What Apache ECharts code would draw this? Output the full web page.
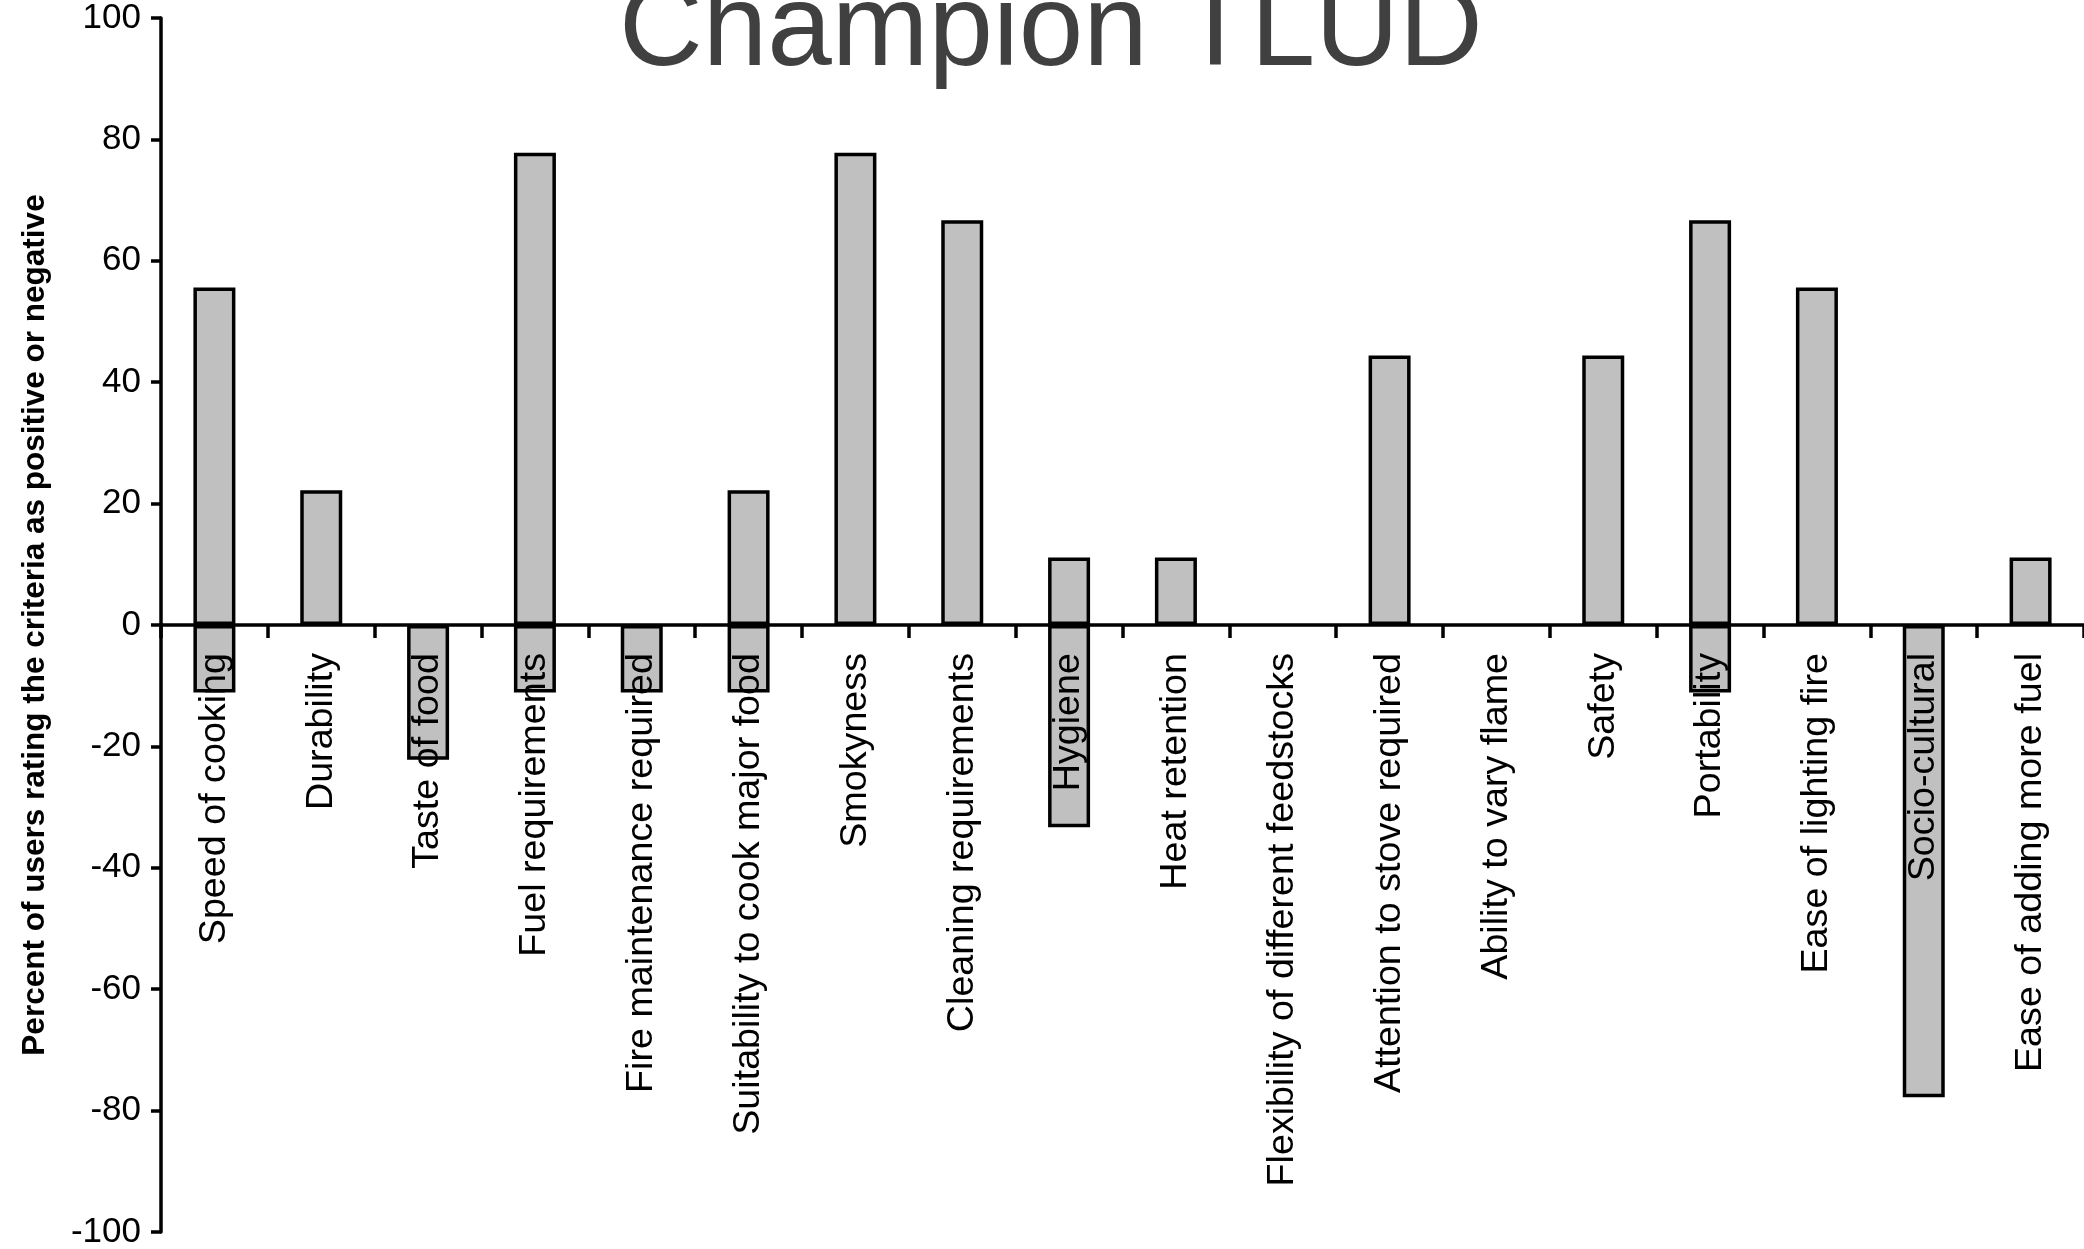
<!DOCTYPE html>
<html>
<head>
<meta charset="utf-8">
<script src="https://cdn.jsdelivr.net/npm/echarts@6/dist/echarts.min.js"></script>
<style>
html,body{margin:0;padding:0;background:#fff;}
#chart{width:2084px;height:1249px;}
</style>
</head>
<body>
<div id="chart"></div>
<script>
const titleText = 'Champion TLUD';
const yAxisName = 'Percent of users rating the criteria as positive or negative';
const categories = [
  'Speed of cooking', 'Durability', 'Taste of food', 'Fuel requirements',
  'Fire maintenance required', 'Suitability to cook major food', 'Smokyness',
  'Cleaning requirements', 'Hygiene', 'Heat retention',
  'Flexibility of different feedstocks', 'Attention to stove required',
  'Ability to vary flame', 'Safety', 'Portability', 'Ease of lighting fire',
  'Socio-cultural', 'Ease of adding more fuel'
];
const positiveValues = [55.6, 22.2, 0, 77.8, 0, 22.2, 77.8, 66.7, 11.1, 11.1, 0, 44.4, 0, 44.4, 66.7, 55.6, 0, 11.1];
const negativeValues = [-11.1, 0, -22.2, -11.1, -11.1, -11.1, 0, 0, -33.3, 0, 0, 0, 0, 0, -11.1, 0, -77.8, 0];
const yTicks = { min: -100, max: 100, interval: 20 };

const chart = echarts.init(document.getElementById('chart'));
const toData = arr => arr.map(v => (v === 0 ? null : v));
const barStyle = { color: '#c0c0c0', borderColor: '#000', borderWidth: 3.5 };

const gridTop = 18, gridBottom = 17;
const gridHeight = 1249 - gridTop - gridBottom;

chart.setOption({
  animation: false,
  backgroundColor: '#fff',
  graphic: [{
    type: 'text',
    left: 619,
    top: -25,
    z: 100,
    style: {
      text: titleText,
      fontFamily: 'Liberation Sans, Arial, sans-serif',
      fontSize: 116,
      fill: '#404040'
    }
  }],
  grid: { left: 161, right: 0, top: gridTop, bottom: gridBottom, containLabel: false, outerBoundsMode: 'none' },
  xAxis: {
    type: 'category',
    data: categories,
    position: 'bottom',
    offset: -gridHeight / 2,
    z: 5,
    axisLine: { onZero: false, lineStyle: { color: '#000', width: 3.5 } },
    axisTick: { show: true, length: 13, lineStyle: { color: '#000', width: 3.5 }, alignWithLabel: false },
    axisLabel: {
      rotate: 90,
      interval: 0,
      margin: 28,
      color: '#000',
      fontFamily: 'Liberation Sans, Arial, sans-serif',
      fontSize: 37.7
    },
    splitLine: { show: false }
  },
  yAxis: {
    type: 'value',
    min: yTicks.min,
    max: yTicks.max,
    interval: yTicks.interval,
    name: yAxisName,
    nameLocation: 'middle',
    nameGap: 110,
    nameRotate: 90,
    nameTextStyle: {
      color: '#000',
      fontFamily: 'Liberation Sans, Arial, sans-serif',
      fontWeight: 'bold',
      fontSize: 31.5
    },
    axisLine: { show: true, lineStyle: { color: '#000', width: 3.5 } },
    axisTick: { show: true, length: 10, lineStyle: { color: '#000', width: 3.5 } },
    axisLabel: {
      margin: 20,
      color: '#000',
      fontFamily: 'Liberation Sans, Arial, sans-serif',
      fontSize: 35
    },
    splitLine: { show: false }
  },
  series: [
    {
      name: 'Positive',
      type: 'bar',
      stack: 'rating',
      barWidth: 42,
      data: toData(positiveValues),
      itemStyle: barStyle
    },
    {
      name: 'Negative',
      type: 'bar',
      stack: 'rating',
      barWidth: 42,
      data: toData(negativeValues),
      itemStyle: barStyle
    }
  ]
});
</script>
</body>
</html>
